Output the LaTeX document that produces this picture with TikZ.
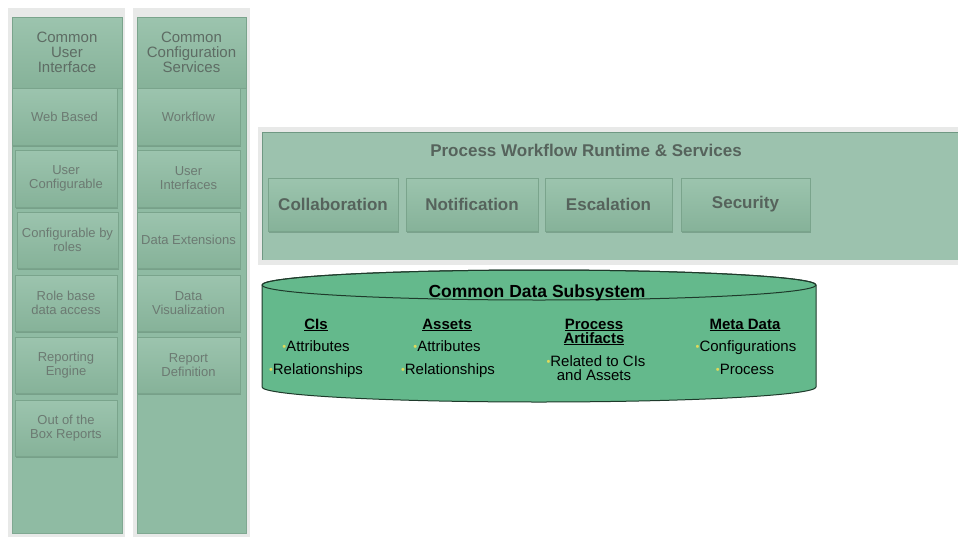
\documentclass[tikz,border=0pt]{standalone}
\usepackage{fontspec}
\setmainfont{Liberation Sans}
\usetikzlibrary{shadows}
\definecolor{frame}{HTML}{E8E9E8}
\definecolor{colbg}{HTML}{8FBBA3}
\definecolor{colline}{HTML}{7FA891}
\definecolor{boxtop}{HTML}{9CC4AE}
\definecolor{boxbot}{HTML}{86B299}
\definecolor{boxline}{HTML}{7AA48C}
\definecolor{shade}{HTML}{6E957F}
\definecolor{coltxt}{HTML}{6C7A72}
\definecolor{hdrtxt}{HTML}{5E6C64}
\definecolor{pbg}{HTML}{9CC2AE}
\definecolor{ptop}{HTML}{6F9883}
\definecolor{ptxt}{HTML}{56635C}
\definecolor{cylfill}{HTML}{64B98C}
\definecolor{cylline}{HTML}{1E3A2B}
\definecolor{bulc}{HTML}{E0DA5A}
\newcommand{\bul}{\textcolor{bulc}{\fontsize{11}{11}\selectfont\raisebox{0.1ex}{•}}}
\begin{document}
\begin{tikzpicture}[x=1pt,y=-1pt,
  colbox/.style={draw=boxline, line width=0.6pt, top color=boxtop, bottom color=boxbot,
    inner sep=0pt, align=center, text=coltxt, font=\fontsize{13}{14}\selectfont,
    drop shadow={shadow xshift=1pt, shadow yshift=-2pt, fill=shade, opacity=0.7}},
  hdrbox/.style={draw=boxline, line width=0.6pt, top color=boxtop, bottom color=boxbot,
    inner sep=0pt, align=center, text=hdrtxt, font=\fontsize{15}{15}\selectfont},
  pbox/.style={draw=boxline, line width=0.6pt, top color=boxtop, bottom color=boxbot,
    inner sep=0pt, text=ptxt, font=\fontsize{17}{18}\selectfont\bfseries,
    drop shadow={shadow xshift=1pt, shadow yshift=-2pt, fill=shade, opacity=0.7}},
  cyltext/.style={anchor=base, align=center, text=black, font=\fontsize{15}{14}\selectfont},
  cylhead/.style={anchor=base, align=center, text=black, font=\fontsize{15}{14}\selectfont\bfseries}]
\useasboundingbox (0,0) rectangle (958,538);

% ---------- column 1 ----------
\fill[frame] (8,8) rectangle (125,537);
\filldraw[fill=colbg, draw=colline] (12,17) rectangle (122,533);
\node[hdrbox, minimum width=110pt, minimum height=71pt] (cui) at (67,52.5) {Common\\User\\Interface};
\node[colbox, minimum width=105pt, minimum height=57pt] (web) at (64.5,116.5) {Web Based};
\node[colbox, minimum width=102pt, minimum height=57pt] (ucfg) at (66,178.5) {User\\Configurable};
\node[colbox, minimum width=101pt, minimum height=56pt] (roles) at (67.5,240) {Configurable by\\roles};
\node[colbox, minimum width=102pt, minimum height=56pt] (rba) at (66,303) {Role base\\data access};
\node[colbox, minimum width=102pt, minimum height=56pt] (rep) at (66,365) {Reporting\\Engine};
\node[colbox, minimum width=102pt, minimum height=56pt] (oob) at (66,428) {Out of the\\Box Reports};

% ---------- column 2 ----------
\fill[frame] (133,8) rectangle (250,537);
\filldraw[fill=colbg, draw=colline] (137,17) rectangle (246,533);
\node[hdrbox, minimum width=109pt, minimum height=71pt] (ccs) at (191.5,52.5) {Common\\Configuration\\Services};
\node[colbox, minimum width=103pt, minimum height=57pt] (wf) at (188.5,116.5) {Workflow};
\node[colbox, minimum width=103pt, minimum height=57pt] (ui) at (188.5,178.5) {User\\Interfaces};
\node[colbox, minimum width=103pt, minimum height=56pt] (dext) at (188.5,240) {Data Extensions};
\node[colbox, minimum width=103pt, minimum height=56pt] (dvis) at (188.5,303) {Data\\Visualization};
\node[colbox, minimum width=103pt, minimum height=56pt] (rdef) at (188.5,365) {Report\\Definition};

% ---------- process workflow ----------
\fill[frame] (258,127) rectangle (958,265);
\fill[pbg] (262,132) rectangle (958,260);
\draw[ptop, line width=1.2pt] (262,132.5) -- (958,132.5);
\draw[ptop, line width=0.6pt] (262.3,132) -- (262.3,260);
\node[text=ptxt, font=\fontsize{17}{18}\selectfont\bfseries] (pwr) at (586,150) {Process Workflow Runtime \& Services};
\node[pbox, minimum width=130pt, minimum height=53pt] (collab) at (333,204.5) {Collaboration};
\node[pbox, minimum width=132pt, minimum height=53pt] (notif) at (472,204.5) {Notification};
\node[pbox, minimum width=127pt, minimum height=53pt] (esc) at (608.5,204.5) {Escalation};
\node[pbox, minimum width=129pt, minimum height=53pt] (sec) at (745.5,204.5) {Security};

% ---------- common data subsystem (cylinder) ----------
\filldraw[fill=cylfill, draw=cylline, line width=1pt]
  (262,285) -- (262,387) arc[start angle=180, end angle=360, x radius=277pt, y radius=15pt]
  -- (816,285) arc[start angle=0, end angle=180, x radius=277pt, y radius=15pt] -- cycle;
\draw[cylline, line width=1pt] (539,285) ellipse [x radius=277pt, y radius=15pt];
\coordinate (cyl) at (539,336);
\node[cylhead, font=\fontsize{17.5}{18}\selectfont\bfseries] (cds) at (537,297) {Common Data Subsystem};

\node[cylhead] (cis) at (316,329) {\underline{CIs}};
\node[cyltext] (cia) at (316,351.5) {\bul Attributes};
\node[cyltext] (cir) at (316,374.5) {\bul Relationships};

\node[cylhead] (ast) at (447,329) {\underline{Assets}};
\node[cyltext] (asa) at (447,351.5) {\bul Attributes};
\node[cyltext] (asr) at (448,374.5) {\bul Relationships};

\node[cylhead] (pa1) at (594,329) {\underline{Process}};
\node[cylhead] (pa2) at (594,343) {\underline{Artifacts}};
\node[cyltext] (par1) at (596,366) {\bul Related to CIs};
\node[cyltext] (par2) at (594,380) {and Assets};

\node[cylhead] (md) at (745,329) {\underline{Meta Data}};
\node[cyltext] (mdc) at (746,351.5) {\bul Configurations};
\node[cyltext] (mdp) at (745,374.5) {\bul Process};
\end{tikzpicture}
\end{document}
